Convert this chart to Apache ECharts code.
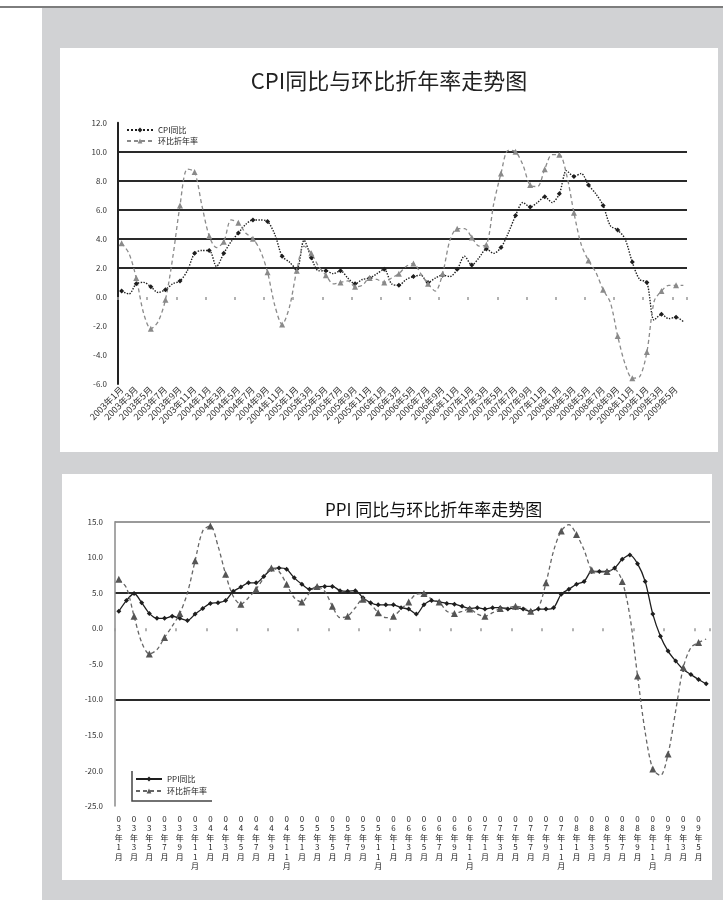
<!DOCTYPE html>
<html>
<head>
<meta charset="utf-8">
<script src="https://cdn.jsdelivr.net/npm/echarts@6/dist/echarts.min.js"></script>
<style>
  body { margin: 0; width: 723px; height: 900px; background: #fff; position: relative; overflow: hidden; }
  #topline { position: absolute; left: 0; top: 6px; width: 723px; height: 2px; background: #7d7d7d; }
  #panel { position: absolute; left: 42px; top: 8px; width: 681px; height: 892px; background: #d1d2d4; }
  .card { position: absolute; background: #fff; }
  #cpi { left: 60px; top: 48px; width: 658px; height: 404px; }
  #ppi { left: 62px; top: 474px; width: 650px; height: 406px; }
</style>
</head>
<body>
<div id="topline"></div>
<div id="panel"></div>
<div id="cpi" class="card"></div>
<div id="ppi" class="card"></div>
<script>
// ------------------------------------------------------------
// data (monthly, 2003-01 .. 2009-06)
// ------------------------------------------------------------
const months = [];
for (let y = 2003; y <= 2009; y++) {
  for (let m = 1; m <= 12; m++) {
    if (months.length < 78) months.push(y + "年" + m + "月");
  }
}

const cpiYoy = [
  0.4, 0.2, 0.9, 1.0, 0.7, 0.3, 0.5, 0.9, 1.1, 1.8, 3.0, 3.2,
  3.2, 2.1, 3.0, 3.8, 4.4, 5.0, 5.3, 5.3, 5.2, 4.3, 2.8, 2.4,
  1.9, 3.9, 2.7, 1.8, 1.8, 1.6, 1.8, 1.3, 0.9, 1.2, 1.3, 1.6,
  1.9, 0.9, 0.8, 1.2, 1.4, 1.5, 1.0, 1.3, 1.5, 1.4, 1.9, 2.8,
  2.2, 2.7, 3.3, 3.0, 3.4, 4.4, 5.6, 6.5, 6.2, 6.5, 6.9, 6.5,
  7.1, 8.7, 8.3, 8.5, 7.7, 7.1, 6.3, 4.9, 4.6, 4.0, 2.4, 1.2,
  1.0, -1.6, -1.2, -1.5, -1.4, -1.7,
];
const cpiMom = [
  3.7, 3.0, 1.3, -1.1, -2.2, -1.7, -0.2, 2.7, 6.3, 8.8, 8.6, 6.3,
  4.2, 3.4, 3.8, 5.3, 5.1, 4.4, 4.0, 3.2, 1.7, -0.6, -1.9, -0.7,
  1.8, 3.5, 3.0, 2.1, 1.5, 0.9, 1.0, 1.1, 0.7, 0.8, 1.3, 1.2,
  1.0, 1.3, 1.6, 2.1, 2.3, 1.6, 0.9, 0.4, 1.6, 3.9, 4.7, 4.7,
  4.1, 3.5, 3.6, 6.4, 8.5, 10.1, 10.0, 9.1, 7.7, 7.6, 8.8, 9.8,
  9.8, 8.4, 5.8, 3.6, 2.5, 1.7, 0.5, -0.4, -2.7, -4.6, -5.6, -5.5,
  -3.8, -0.3, 0.4, 0.8, 0.8, 0.8,
];

const ppiYoy = [
  2.4, 3.9, 4.9, 3.6, 2.1, 1.4, 1.4, 1.7, 1.4, 1.1, 2.0, 2.8,
  3.5, 3.6, 3.9, 5.2, 5.8, 6.4, 6.4, 7.3, 8.3, 8.5, 8.3, 7.1,
  6.2, 5.5, 5.8, 5.9, 5.9, 5.3, 5.2, 5.3, 4.3, 3.6, 3.3, 3.3,
  3.3, 2.9, 2.7, 2.0, 3.3, 3.9, 3.7, 3.5, 3.4, 3.1, 2.8, 2.9,
  2.7, 2.9, 2.9, 2.7, 2.9, 2.7, 2.4, 2.7, 2.7, 2.9, 4.8, 5.5,
  6.2, 6.6, 8.0, 8.0, 8.0, 8.5, 9.7, 10.3, 9.1, 6.6, 2.0, -1.1,
  -3.2, -4.6, -5.8, -6.5, -7.2, -7.8,
];
const ppiMom = [
  6.9, 5.7, 1.7, -2.0, -3.6, -3.0, -1.3, 0.3, 2.1, 5.0, 9.5, 13.7,
  14.4, 11.6, 7.6, 4.5, 3.4, 4.3, 5.5, 7.1, 8.5, 8.0, 6.2, 4.3,
  3.7, 5.0, 5.9, 5.2, 3.1, 1.5, 1.7, 2.9, 4.1, 3.4, 2.2, 1.5,
  1.7, 2.7, 3.7, 4.8, 4.9, 4.1, 3.7, 2.4, 2.1, 2.4, 2.7, 2.0,
  1.7, 2.2, 2.8, 2.9, 3.1, 2.9, 2.4, 2.9, 6.4, 10.9, 13.7, 14.6,
  13.2, 11.0, 8.2, 7.9, 8.0, 8.3, 6.6, 1.7, -6.7, -14.6, -19.8, -20.7,
  -17.7, -11.6, -5.5, -2.7, -2.0, -1.5,
];

const cpiNames = ["CPI同比", "环比折年率"];
const ppiNames = ["PPI同比", "环比折年率"];

const FONT = '"Noto Sans CJK SC", "Noto Sans", sans-serif';
const NONE = "rgba(0,0,0,0)";
const GRID = "#2a2a2a";

// ------------------------------------------------------------
// CPI chart
// ------------------------------------------------------------
const cpiChart = echarts.init(document.getElementById("cpi"));
cpiChart.setOption({
  animation: false,
  textStyle: { fontFamily: FONT },
  title: {
    text: "CPI同比与环比折年率走势图",
    left: "center",
    top: 17,
    textStyle: { fontSize: 22, fontWeight: "normal", color: "#222", fontFamily: FONT },
  },
  legend: {
    orient: "vertical",
    left: 62,
    top: 76,
    itemWidth: 26,
    itemHeight: 6,
    itemGap: 3,
    padding: [2, 6, 4, 4],
    backgroundColor: "#fff",
    textStyle: { fontSize: 8, color: "#222" },
    data: cpiNames,
  },
  grid: { left: 58, right: 31, top: 74.7, bottom: 68 },
  xAxis: [
    {
      type: "category",
      data: months,
      axisLine: { show: false, onZero: false },
      axisTick: { show: false },
      axisLabel: { interval: 1, rotate: 45, fontSize: 9, margin: 4, color: "#333" },
    },
    {
      type: "category",
      data: months,
      position: "bottom",
      axisLine: { show: false, onZero: true },
      axisTick: { show: true, interval: 3, length: 3, lineStyle: { color: "#999", width: 1.5 } },
      axisLabel: { show: false },
    },
  ],
  yAxis: {
    type: "value",
    min: -6,
    max: 12,
    interval: 2,
    axisLine: { show: true, lineStyle: { color: "#222", width: 2 } },
    axisTick: { show: false },
    axisLabel: { formatter: (v) => v.toFixed(1), fontSize: 8, color: "#333", margin: 11 },
    splitLine: {
      show: true,
      lineStyle: { color: [NONE, NONE, NONE, NONE, GRID, GRID, GRID, GRID, GRID, NONE], width: 2 },
    },
  },
  series: [
    {
      name: cpiNames[0],
      type: "line",
      data: cpiYoy,
      smooth: 0.3,
      symbol: "diamond",
      symbolSize: 5,
      itemStyle: { color: "#1e1e1e" },
      lineStyle: { color: "#1e1e1e", width: 1.4, type: "dotted" },
      z: 3,
    },
    {
      name: cpiNames[1],
      type: "line",
      data: cpiMom,
      smooth: 0.3,
      symbol: "triangle",
      symbolSize: 6,
      itemStyle: { color: "#8a8a8a" },
      lineStyle: { color: "#8a8a8a", width: 1.3, type: [4, 3] },
    },
  ],
});

// ------------------------------------------------------------
// PPI chart
// ------------------------------------------------------------
const ppiChart = echarts.init(document.getElementById("ppi"));
ppiChart.setOption({
  animation: false,
  textStyle: { fontFamily: FONT },
  title: {
    text: "PPI 同比与环比折年率走势图",
    left: 258,
    top: 22,
    textStyle: { fontSize: 17, fontWeight: "normal", color: "#111", fontFamily: FONT },
  },
  legend: {
    orient: "vertical",
    left: 71,
    top: 299,
    itemWidth: 26,
    itemHeight: 6,
    itemGap: 4,
    padding: [2, 4, 2, 2],
    textStyle: { fontSize: 8, color: "#222" },
    data: ppiNames,
  },
  graphic: [
    {
      type: "polyline",
      shape: { points: [[70, 297], [70, 327], [150, 327]] },
      style: { stroke: "#444", lineWidth: 1.5, fill: null },
    },
  ],
  grid: { left: 53, right: 2, top: 47.7, bottom: 74 },
  xAxis: [
    {
      type: "category",
      data: months,
      axisLine: { show: false, onZero: false },
      axisTick: { show: false },
      axisLabel: {
        interval: 1,
        fontSize: 8,
        lineHeight: 9.5,
        margin: 8,
        color: "#222",
        formatter: (v) => v.slice(2).split("").join("\n"),
      },
    },
    {
      type: "category",
      data: months,
      position: "bottom",
      axisLine: { show: false, onZero: true },
      axisTick: { show: true, interval: 3, length: 3, lineStyle: { color: "#999", width: 1.5 } },
      axisLabel: { show: false },
    },
  ],
  yAxis: {
    type: "value",
    min: -25,
    max: 15,
    interval: 5,
    axisLine: { show: true, lineStyle: { color: "#8a8a8a", width: 1.5 } },
    axisTick: { show: false },
    axisLabel: { formatter: (v) => v.toFixed(1), fontSize: 8, color: "#333", margin: 12 },
    splitLine: {
      show: true,
      lineStyle: { color: [NONE, NONE, NONE, GRID, NONE, NONE, GRID, NONE, "#9a9a9a"], width: 2 },
    },
  },
  series: [
    {
      name: ppiNames[0],
      type: "line",
      data: ppiYoy,
      smooth: 0.3,
      symbol: "diamond",
      symbolSize: 5,
      itemStyle: { color: "#1e1e1e" },
      lineStyle: { color: "#1e1e1e", width: 1.3 },
      z: 3,
    },
    {
      name: ppiNames[1],
      type: "line",
      data: ppiMom,
      smooth: 0.3,
      symbol: "triangle",
      symbolSize: 7,
      itemStyle: { color: "#555" },
      lineStyle: { color: "#666", width: 1.3, type: [4, 3] },
    },
  ],
});
</script>
</body>
</html>
